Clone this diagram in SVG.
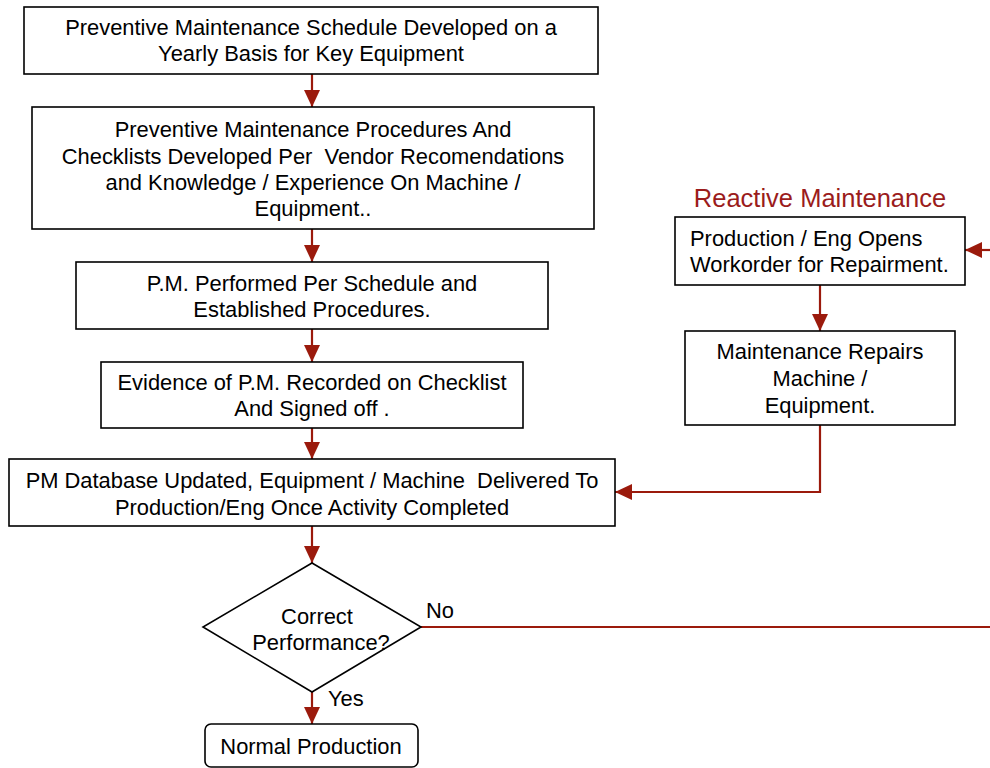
<svg xmlns="http://www.w3.org/2000/svg" width="990" height="768" viewBox="0 0 990 768">
  <style>
    .box { fill: #ffffff; stroke: #000000; stroke-width: 1.6; }
    .txt { font-family: "Liberation Sans", Arial, sans-serif; font-size: 21.9px; fill: #000000; text-anchor: middle; }
    .left { text-anchor: start; }
    .title { font-family: "Liberation Sans", Arial, sans-serif; font-size: 25.5px; fill: #9b1c1c; text-anchor: middle; }
    .wire { fill: none; stroke: #9b1a0c; stroke-width: 2.2; }
  </style>
  <defs>
    <marker id="arrow" markerUnits="userSpaceOnUse" markerWidth="18" markerHeight="18" refX="17" refY="9" orient="auto">
      <path d="M0,1 L17,9 L0,17 z" fill="#9b1a0c"/>
    </marker>
  </defs>

  <!-- connectors -->
  <g id="connectors">
    <line class="wire" x1="312" y1="74" x2="312" y2="107" marker-end="url(#arrow)"/>
    <line class="wire" x1="312" y1="229" x2="312" y2="262" marker-end="url(#arrow)"/>
    <line class="wire" x1="312" y1="329" x2="312" y2="362" marker-end="url(#arrow)"/>
    <line class="wire" x1="312" y1="428" x2="312" y2="459" marker-end="url(#arrow)"/>
    <line class="wire" x1="312" y1="526" x2="312" y2="563" marker-end="url(#arrow)"/>
    <line class="wire" x1="312" y1="692" x2="312" y2="724" marker-end="url(#arrow)"/>
    <line class="wire" x1="421" y1="627" x2="992" y2="627"/>
    <line class="wire" x1="992" y1="250" x2="965" y2="250" marker-end="url(#arrow)"/>
    <line class="wire" x1="820" y1="285" x2="820" y2="331" marker-end="url(#arrow)"/>
    <polyline class="wire" points="820,425 820,492 615,492" marker-end="url(#arrow)"/>
    <text class="txt left" x="426" y="618">No</text>
    <text class="txt left" x="328" y="706">Yes</text>
  </g>

  <g id="schedule">
    <rect class="box" x="24" y="7" width="574" height="67"/>
    <text class="txt" x="311" y="35">Preventive Maintenance Schedule Developed on a</text>
    <text class="txt" x="311" y="61">Yearly Basis for Key Equipment</text>
  </g>

  <g id="procedures">
    <rect class="box" x="32" y="107" width="562" height="122"/>
    <text class="txt" x="313" y="137">Preventive Maintenance Procedures And</text>
    <text class="txt" x="313" y="164" xml:space="preserve">Checklists Developed Per  Vendor Recomendations</text>
    <text class="txt" x="313" y="190">and Knowledge / Experience On Machine /</text>
    <text class="txt" x="313" y="216">Equipment..</text>
  </g>

  <g id="performed">
    <rect class="box" x="76" y="262" width="472" height="67"/>
    <text class="txt" x="312" y="291">P.M. Performed Per Schedule and</text>
    <text class="txt" x="312" y="317">Established Procedures.</text>
  </g>

  <g id="evidence">
    <rect class="box" x="101" y="362" width="422" height="66"/>
    <text class="txt" x="312" y="390">Evidence of P.M. Recorded on Checklist</text>
    <text class="txt" x="312" y="416">And Signed off .</text>
  </g>

  <g id="database">
    <rect class="box" x="9" y="459" width="606" height="67"/>
    <text class="txt" x="312" y="488" xml:space="preserve">PM Database Updated, Equipment / Machine  Delivered To</text>
    <text class="txt" x="312" y="515">Production/Eng Once Activity Completed</text>
  </g>

  <g id="decision">
    <polygon class="box" points="312,563 421,627 312,692 203,627"/>
    <text class="txt" x="317" y="624">Correct</text>
    <text class="txt" x="321" y="650">Performance?</text>
  </g>

  <g id="normal-production">
    <rect class="box" x="205" y="724" width="213" height="43" rx="6" ry="6"/>
    <text class="txt" x="311" y="754">Normal Production</text>
  </g>

  <g id="reactive-title">
    <text class="title" x="820" y="207">Reactive Maintenance</text>
  </g>

  <g id="workorder">
    <rect class="box" x="675" y="217" width="290" height="68"/>
    <text class="txt left" x="690" y="246">Production / Eng Opens</text>
    <text class="txt left" x="690" y="272">Workorder for Repairment.</text>
  </g>

  <g id="repairs">
    <rect class="box" x="685" y="331" width="270" height="94"/>
    <text class="txt" x="820" y="359">Maintenance Repairs</text>
    <text class="txt" x="820" y="386">Machine /</text>
    <text class="txt" x="820" y="413">Equipment.</text>
  </g>
</svg>
